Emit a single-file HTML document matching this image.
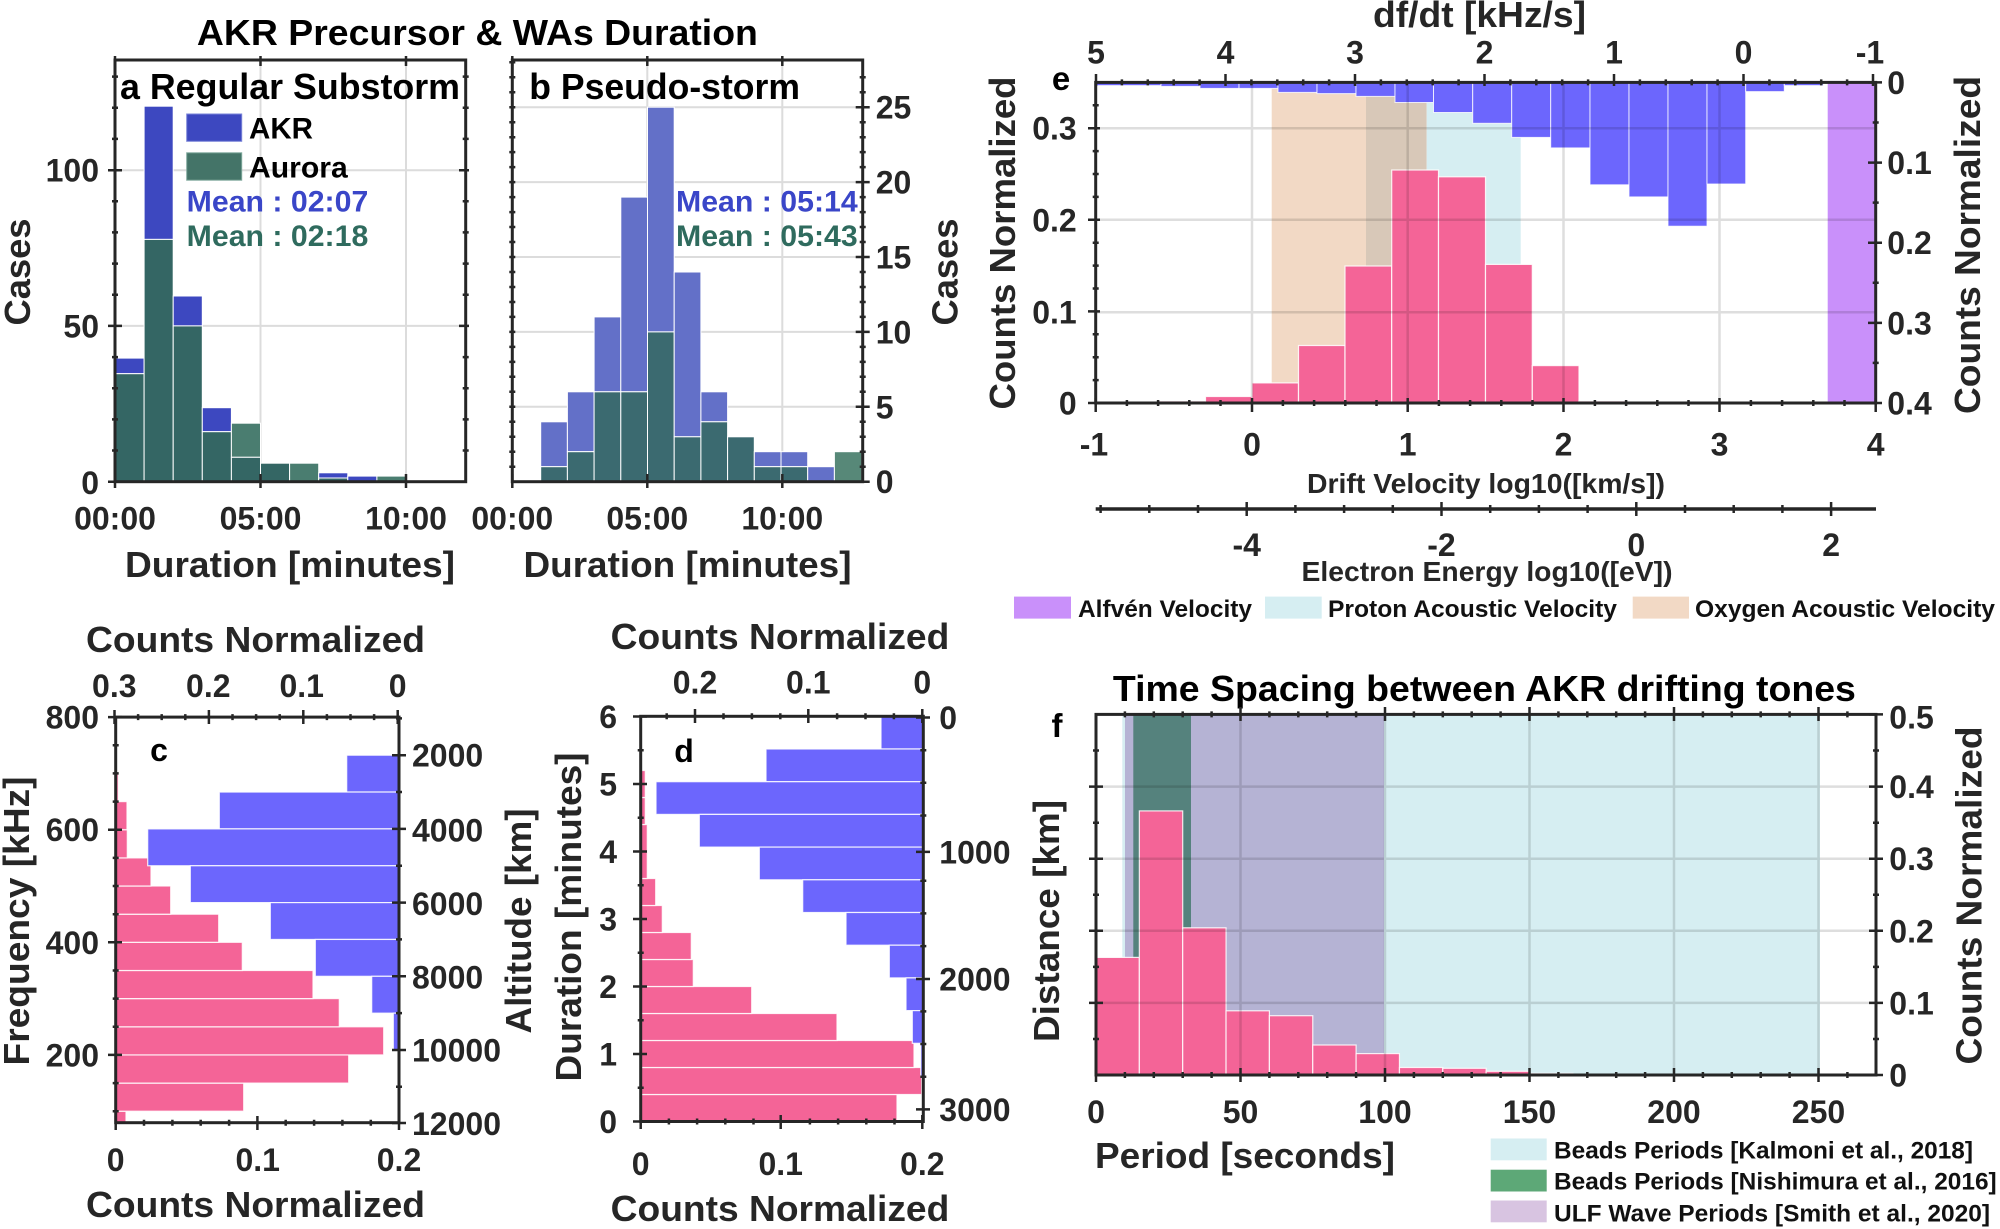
<!DOCTYPE html>
<html><head><meta charset="utf-8"><style>
html,body{margin:0;padding:0;background:#fff;}
svg{display:block;}
text{font-family:"Liberation Sans",Arial,Helvetica,sans-serif;font-weight:bold;fill:#262626;}
.t{font-size:32px;}
.l{font-size:36px;}
.g{font-size:24px;fill:#111;}
</style></head><body>
<svg width="2000" height="1229" viewBox="0 0 2000 1229" xmlns="http://www.w3.org/2000/svg">
<rect width="2000" height="1229" fill="#fff"/>

<!-- ================= Title ================= -->
<text x="477.4" y="45" text-anchor="middle" font-size="36" textLength="561" lengthAdjust="spacingAndGlyphs" style="fill:#000">AKR Precursor &amp; WAs Duration</text>

<!-- ================= Panel a ================= -->
<g stroke="#dcdcdc" stroke-width="2">
<path d="M115 325.9H465.7M115 170.2H465.7M260.5 60V481.7M406 60V481.7"/>
</g>
<g stroke="#fff" stroke-width="1">
<rect x="115" y="358.1" width="29.1" height="15.6" fill="#3d48c0"/>
<rect x="115" y="373.7" width="29.1" height="108" fill="#346664"/>
<rect x="144.1" y="106.2" width="29.1" height="133.2" fill="#3d48c0"/>
<rect x="144.1" y="239.4" width="29.1" height="242.3" fill="#346664"/>
<rect x="173.2" y="296" width="29.1" height="29.9" fill="#3d48c0"/>
<rect x="173.2" y="325.9" width="29.1" height="155.8" fill="#346664"/>
<rect x="202.3" y="407.7" width="29.1" height="24" fill="#3d48c0"/>
<rect x="202.3" y="431.7" width="29.1" height="50" fill="#346664"/>
<rect x="231.4" y="423.2" width="29.1" height="34.1" fill="#4a7d70"/>
<rect x="231.4" y="457.3" width="29.1" height="24.4" fill="#346664"/>
<rect x="260.5" y="463.2" width="29.1" height="18.5" fill="#346664"/>
<rect x="289.6" y="463.2" width="29.1" height="18.5" fill="#4a7d70"/>
<rect x="318.7" y="472.8" width="29.1" height="5.2" fill="#3d48c0"/>
<rect x="318.7" y="478" width="29.1" height="3.7" fill="#346664"/>
<rect x="347.8" y="476.1" width="29.1" height="5.6" fill="#3d48c0"/>
<rect x="376.9" y="476.1" width="29.1" height="5.6" fill="#4a7d70"/>
</g>
<rect x="115" y="60" width="350.7" height="421.7" fill="none" stroke="#262626" stroke-width="3"/>
<g stroke="#262626" stroke-width="2.5">
<path d="M112 450.5h6M112 419.4h6M112 388.2h6M112 357.1h6M112 294.7h6M112 263.6h6M112 232.4h6M112 201.3h6M112 138.9h6M112 107.8h6M112 76.6h6M108 481.7h14M108 325.9h14M108 170.2h14"/>
<path d="M462.7 450.5h6M462.7 419.4h6M462.7 388.2h6M462.7 357.1h6M462.7 294.7h6M462.7 263.6h6M462.7 232.4h6M462.7 201.3h6M462.7 138.9h6M462.7 107.8h6M462.7 76.6h6M459 325.9h10M459 170.2h10"/>
<path d="M115 478v10M260.5 474v14M406 474v14M115 56v10M260.5 56v10M406 56v10"/>
</g>
<text x="249" y="99.2" class="l" textLength="0" style="display:none"></text>
<text x="120" y="99.2" font-size="36" textLength="340" lengthAdjust="spacingAndGlyphs" style="fill:#000">a Regular Substorm</text>
<rect x="186.7" y="114" width="55" height="27.3" fill="#3d48c0" stroke="#7a84d8" stroke-width="1"/>
<rect x="186.7" y="152.8" width="55" height="27.4" fill="#447468" stroke="#7fa89c" stroke-width="1"/>
<text x="249" y="138.5" font-size="30" textLength="64" lengthAdjust="spacingAndGlyphs" style="fill:#000">AKR</text>
<text x="249" y="177.3" font-size="30" textLength="98.7" lengthAdjust="spacingAndGlyphs" style="fill:#000">Aurora</text>
<text x="186.7" y="211.7" font-size="30" textLength="181.6" lengthAdjust="spacingAndGlyphs" style="fill:#3a46c8">Mean : 02:07</text>
<text x="186.7" y="245.8" font-size="30" textLength="181.6" lengthAdjust="spacingAndGlyphs" style="fill:#2f6b5e">Mean : 02:18</text>
<text x="99" y="181.5" class="t" text-anchor="end">100</text>
<text x="99" y="337.4" class="t" text-anchor="end">50</text>
<text x="99" y="494" class="t" text-anchor="end">0</text>
<text x="115" y="529.5" class="t" text-anchor="middle">00:00</text>
<text x="260.5" y="529.5" class="t" text-anchor="middle">05:00</text>
<text x="406" y="529.5" class="t" text-anchor="middle">10:00</text>
<text x="290" y="577" class="l" text-anchor="middle" textLength="330" lengthAdjust="spacingAndGlyphs">Duration [minutes]</text>
<text transform="translate(30,272) rotate(-90)" class="l" text-anchor="middle" textLength="107" lengthAdjust="spacingAndGlyphs">Cases</text>

<!-- ================= Panel b ================= -->
<g stroke="#dcdcdc" stroke-width="2">
<path d="M512.3 406.8H862.7M512.3 331.9H862.7M512.3 257H862.7M512.3 182.1H862.7M512.3 107.2H862.7M647.3 60V481.7M782.3 60V481.7"/>
</g>
<g stroke="#fff" stroke-width="1">
<rect x="540.7" y="421.8" width="26.7" height="44.9" fill="#6370c8"/>
<rect x="540.7" y="466.7" width="26.7" height="15" fill="#3b6a70"/>
<rect x="567.4" y="391.8" width="26.7" height="59.9" fill="#6370c8"/>
<rect x="567.4" y="451.7" width="26.7" height="30" fill="#3b6a70"/>
<rect x="594.1" y="316.9" width="26.7" height="74.9" fill="#6370c8"/>
<rect x="594.1" y="391.8" width="26.7" height="89.9" fill="#3b6a70"/>
<rect x="620.8" y="197.1" width="26.7" height="194.7" fill="#6370c8"/>
<rect x="620.8" y="391.8" width="26.7" height="89.9" fill="#3b6a70"/>
<rect x="647.5" y="107.2" width="26.7" height="224.7" fill="#6370c8"/>
<rect x="647.5" y="331.9" width="26.7" height="149.8" fill="#3b6a70"/>
<rect x="674.2" y="272" width="26.7" height="164.8" fill="#6370c8"/>
<rect x="674.2" y="436.8" width="26.7" height="44.9" fill="#3b6a70"/>
<rect x="700.9" y="391.8" width="26.7" height="30" fill="#6370c8"/>
<rect x="700.9" y="421.8" width="26.7" height="59.9" fill="#3b6a70"/>
<rect x="727.6" y="436.8" width="26.7" height="44.9" fill="#3b6a70"/>
<rect x="754.3" y="451.7" width="26.7" height="15" fill="#6370c8"/>
<rect x="754.3" y="466.7" width="26.7" height="15" fill="#3b6a70"/>
<rect x="781" y="451.7" width="26.7" height="15" fill="#6370c8"/>
<rect x="781" y="466.7" width="26.7" height="15" fill="#3b6a70"/>
<rect x="807.7" y="466.7" width="26.7" height="15" fill="#6370c8"/>
<rect x="834.4" y="451.7" width="27.5" height="30" fill="#578878"/>
</g>
<rect x="512.3" y="60" width="350.4" height="421.7" fill="none" stroke="#262626" stroke-width="3"/>
<g stroke="#262626" stroke-width="2.5">
<path d="M509.3 466.7h6M509.3 451.7h6M509.3 436.8h6M509.3 421.8h6M509.3 406.8h6M509.3 391.8h6M509.3 376.8h6M509.3 361.9h6M509.3 346.9h6M509.3 331.9h6M509.3 316.9h6M509.3 302h6M509.3 287h6M509.3 272h6M509.3 257h6M509.3 242h6M509.3 227h6M509.3 212.1h6M509.3 197.1h6M509.3 182.1h6M509.3 167.1h6M509.3 152.1h6M509.3 137.2h6M509.3 122.2h6M509.3 107.2h6M509.3 92.2h6M509.3 77.2h6M509.3 62.3h6"/>
<path d="M859.7 466.7h6M859.7 451.7h6M859.7 436.8h6M859.7 421.8h6M855.7 406.8h14M859.7 391.8h6M859.7 376.8h6M859.7 361.9h6M859.7 346.9h6M855.7 331.9h14M859.7 316.9h6M859.7 302h6M859.7 287h6M859.7 272h6M855.7 257h14M859.7 242h6M859.7 227h6M859.7 212.1h6M859.7 197.1h6M855.7 182.1h14M859.7 167.1h6M859.7 152.1h6M859.7 137.2h6M859.7 122.2h6M855.7 107.2h14M859.7 92.2h6M859.7 77.2h6M855.7 481.7h14"/>
<path d="M512.3 474v14M647.3 474v14M782.3 474v14M512.3 56v10M647.3 56v10M782.3 56v10"/>
</g>
<text x="529.3" y="99" font-size="36" textLength="270.7" lengthAdjust="spacingAndGlyphs" style="fill:#000">b Pseudo-storm</text>
<text x="676" y="211.7" font-size="30" textLength="181.7" lengthAdjust="spacingAndGlyphs" style="fill:#3a46c8">Mean : 05:14</text>
<text x="676" y="245.8" font-size="30" textLength="181.7" lengthAdjust="spacingAndGlyphs" style="fill:#2f6b5e">Mean : 05:43</text>
<text x="875.7" y="493.2" class="t">0</text>
<text x="875.7" y="418.3" class="t">5</text>
<text x="875.7" y="343.4" class="t">10</text>
<text x="875.7" y="268.5" class="t">15</text>
<text x="875.7" y="193.6" class="t">20</text>
<text x="875.7" y="118.7" class="t">25</text>
<text x="512.3" y="529.5" class="t" text-anchor="middle">00:00</text>
<text x="647.3" y="529.5" class="t" text-anchor="middle">05:00</text>
<text x="782.3" y="529.5" class="t" text-anchor="middle">10:00</text>
<text x="687.5" y="577" class="l" text-anchor="middle" textLength="328" lengthAdjust="spacingAndGlyphs">Duration [minutes]</text>
<text transform="translate(957.5,272) rotate(-90)" class="l" text-anchor="middle" textLength="107" lengthAdjust="spacingAndGlyphs">Cases</text>

<!-- ================= Panel e ================= -->
<rect x="1271.7" y="82.4" width="94.3" height="320.6" fill="#f2d9c5"/>
<rect x="1366" y="82.4" width="60.7" height="320.6" fill="#d8c8b8"/>
<rect x="1426.7" y="82.4" width="94" height="320.6" fill="#d6eef2"/>
<rect x="1827.7" y="82.4" width="48" height="320.6" fill="#c990fa"/>
<g fill="#6c66fd" stroke="#fff" stroke-width="1" stroke-opacity="0.8">
<rect x="1095.7" y="82.4" width="26.3" height="3.2"/>
<rect x="1122" y="82.4" width="39" height="3.2"/>
<rect x="1161" y="82.4" width="39" height="4"/>
<rect x="1200" y="82.4" width="39" height="6"/>
<rect x="1239" y="82.4" width="39" height="6"/>
<rect x="1278" y="82.4" width="39" height="10"/>
<rect x="1317" y="82.4" width="39" height="11.2"/>
<rect x="1356" y="82.4" width="39" height="14"/>
<rect x="1395" y="82.4" width="38.5" height="20.1"/>
<rect x="1433.5" y="82.4" width="39.2" height="30.1"/>
<rect x="1472.7" y="82.4" width="39" height="40.9"/>
<rect x="1511.7" y="82.4" width="39" height="55"/>
<rect x="1550.7" y="82.4" width="39.3" height="65.5"/>
<rect x="1590" y="82.4" width="39" height="102.4"/>
<rect x="1629" y="82.4" width="39" height="114.5"/>
<rect x="1668" y="82.4" width="39" height="143.8"/>
<rect x="1707" y="82.4" width="38.7" height="101.6"/>
<rect x="1745.7" y="82.4" width="38.6" height="9.2"/>
<rect x="1784.3" y="82.4" width="39" height="3.2"/>
</g>
<g fill="#f46497" stroke="#fff" stroke-width="1.2" stroke-opacity="0.85">
<rect x="1159" y="401" width="46.5" height="2"/>
<rect x="1205.5" y="396.5" width="46.5" height="6.5"/>
<rect x="1252" y="382.9" width="46.5" height="20.1"/>
<rect x="1298.5" y="345.5" width="46.5" height="57.5"/>
<rect x="1345" y="266" width="46.7" height="137"/>
<rect x="1391.7" y="170" width="46.8" height="233"/>
<rect x="1438.5" y="176.8" width="47" height="226.2"/>
<rect x="1485.5" y="264.4" width="46.8" height="138.6"/>
<rect x="1532.3" y="365.6" width="46.7" height="37.4"/>
<rect x="1579" y="401" width="46.7" height="2"/>
</g>
<g stroke="#000" stroke-opacity="0.13" stroke-width="2.5">
<path d="M1095.7 312.2H1875.7M1095.7 219.8H1875.7M1095.7 128.2H1875.7M1252 82.4V403M1407.7 82.4V403M1563.5 82.4V403M1719.5 82.4V403"/>
</g>
<rect x="1095.7" y="82.4" width="780" height="320.6" fill="none" stroke="#262626" stroke-width="3"/>
<g stroke="#262626" stroke-width="2.5">
<path d="M1092.7 380.1h6M1092.7 357.2h6M1092.7 334.3h6M1092.7 288.5h6M1092.7 265.6h6M1092.7 242.7h6M1092.7 196.9h6M1092.7 174h6M1092.7 151.1h6M1092.7 105.3h6M1088 403h12M1088 311.4h12M1088 219.8h12M1088 128.2h12"/>
<path d="M1872.7 122.5h6M1872.7 202.6h6M1872.7 282.8h6M1872.7 362.9h6M1868 82.4h14M1868 162.6h14M1868 242.7h14M1868 322.9h14M1868 403h14"/>
<path d="M1126.9 400v6M1158.1 400v6M1189.3 400v6M1220.5 400v6M1282.9 400v6M1314.1 400v6M1345.3 400v6M1376.5 400v6M1438.9 400v6M1470.1 400v6M1501.3 400v6M1532.5 400v6M1594.9 400v6M1626.1 400v6M1657.3 400v6M1688.5 400v6M1750.9 400v6M1782.1 400v6M1813.3 400v6M1844.5 400v6M1095.7 398v14M1252 398v14M1407.7 398v14M1563.5 398v14M1719.5 398v14M1875.7 398v14"/>
<path d="M1121.9 79.4v6M1147.8 79.4v6M1173.7 79.4v6M1199.6 79.4v6M1251.4 79.4v6M1277.3 79.4v6M1303.2 79.4v6M1329.1 79.4v6M1380.9 79.4v6M1406.8 79.4v6M1432.7 79.4v6M1458.6 79.4v6M1510.4 79.4v6M1536.3 79.4v6M1562.2 79.4v6M1588.1 79.4v6M1639.9 79.4v6M1665.8 79.4v6M1691.7 79.4v6M1717.6 79.4v6M1769.4 79.4v6M1795.3 79.4v6M1821.2 79.4v6M1847.1 79.4v6M1096 74v12M1225.5 74v12M1355 74v12M1484.5 74v12M1614 74v12M1743.5 74v12M1873 74v12"/>
</g>
<text x="1061" y="90" font-size="33" text-anchor="middle" style="fill:#000">e</text>
<text x="1479.5" y="27" font-size="36" text-anchor="middle" textLength="213" lengthAdjust="spacingAndGlyphs">df/dt [kHz/s]</text>
<text x="1096" y="63.5" class="t" text-anchor="middle">5</text>
<text x="1225.5" y="63.5" class="t" text-anchor="middle">4</text>
<text x="1355" y="63.5" class="t" text-anchor="middle">3</text>
<text x="1484.5" y="63.5" class="t" text-anchor="middle">2</text>
<text x="1614" y="63.5" class="t" text-anchor="middle">1</text>
<text x="1743.5" y="63.5" class="t" text-anchor="middle">0</text>
<text x="1870" y="63.5" class="t" text-anchor="middle">-1</text>
<text x="1076.7" y="414.5" class="t" text-anchor="end">0</text>
<text x="1076.7" y="323.7" class="t" text-anchor="end">0.1</text>
<text x="1076.7" y="231.3" class="t" text-anchor="end">0.2</text>
<text x="1076.7" y="139.7" class="t" text-anchor="end">0.3</text>
<text x="1887.3" y="93.9" class="t">0</text>
<text x="1887.3" y="174" class="t">0.1</text>
<text x="1887.3" y="254.2" class="t">0.2</text>
<text x="1887.3" y="334.4" class="t">0.3</text>
<text x="1887.3" y="414.5" class="t">0.4</text>
<text x="1094" y="455.5" class="t" text-anchor="middle">-1</text>
<text x="1252" y="455.5" class="t" text-anchor="middle">0</text>
<text x="1407.7" y="455.5" class="t" text-anchor="middle">1</text>
<text x="1563.5" y="455.5" class="t" text-anchor="middle">2</text>
<text x="1719.5" y="455.5" class="t" text-anchor="middle">3</text>
<text x="1875.7" y="455.5" class="t" text-anchor="middle">4</text>
<text x="1486" y="493" font-size="28" text-anchor="middle" textLength="358" lengthAdjust="spacingAndGlyphs">Drift Velocity log10([km/s])</text>
<text transform="translate(1015,243) rotate(-90)" class="l" text-anchor="middle" textLength="333" lengthAdjust="spacingAndGlyphs">Counts Normalized</text>
<text transform="translate(1980,245) rotate(-90)" class="l" text-anchor="middle" textLength="338" lengthAdjust="spacingAndGlyphs">Counts Normalized</text>
<!-- electron energy axis -->
<path d="M1095.7 509H1876" stroke="#262626" stroke-width="3.5"/>
<g stroke="#262626" stroke-width="2.5">
<path d="M1100.6 505v8M1149.3 505v8M1198 505v8M1295.4 505v8M1344.1 505v8M1392.8 505v8M1490.2 505v8M1538.9 505v8M1587.6 505v8M1685 505v8M1733.7 505v8M1782.4 505v8M1246.7 502v14M1441.5 502v14M1636.3 502v14M1831.1 502v14"/>
</g>
<text x="1246.7" y="556" class="t" text-anchor="middle">-4</text>
<text x="1441.5" y="556" class="t" text-anchor="middle">-2</text>
<text x="1636.3" y="556" class="t" text-anchor="middle">0</text>
<text x="1831.1" y="556" class="t" text-anchor="middle">2</text>
<text x="1487" y="581" font-size="28" text-anchor="middle" textLength="371" lengthAdjust="spacingAndGlyphs">Electron Energy log10([eV])</text>
<!-- legend e -->
<rect x="1014" y="596.6" width="57" height="22" fill="#c990fa"/>
<text x="1078" y="617" class="g" textLength="174" lengthAdjust="spacingAndGlyphs">Alfvén Velocity</text>
<rect x="1265" y="596.6" width="56.7" height="22" fill="#d6eef2"/>
<text x="1328" y="617" class="g" textLength="289" lengthAdjust="spacingAndGlyphs">Proton Acoustic Velocity</text>
<rect x="1632.7" y="596.6" width="56.3" height="22" fill="#f2d9c5"/>
<text x="1695" y="617" class="g" textLength="300" lengthAdjust="spacingAndGlyphs">Oxygen Acoustic Velocity</text>

<!-- ================= Panel c ================= -->
<g fill="#f46497" stroke="#fff" stroke-width="1.2" stroke-opacity="0.85">
<rect x="115.7" y="1111.2" width="10.3" height="11.5"/>
<rect x="115.7" y="1083.1" width="128" height="28.1"/>
<rect x="115.7" y="1054.9" width="233" height="28.2"/>
<rect x="115.7" y="1026.8" width="268" height="28.1"/>
<rect x="115.7" y="998.6" width="223.6" height="28.2"/>
<rect x="115.7" y="970.5" width="197.3" height="28.1"/>
<rect x="115.7" y="942.3" width="126.6" height="28.2"/>
<rect x="115.7" y="914.2" width="103" height="28.1"/>
<rect x="115.7" y="886" width="55" height="28.2"/>
<rect x="115.7" y="857.9" width="35.3" height="28.1"/>
<rect x="115.7" y="829.7" width="11.6" height="28.2"/>
<rect x="115.7" y="801.6" width="11.3" height="28.1"/>
<rect x="115.7" y="773.4" width="2.6" height="28.2"/>
</g>
<g fill="#6c66fd" stroke="#fff" stroke-width="1.2" stroke-opacity="0.85">
<rect x="346.7" y="755.2" width="52.3" height="36.85"/>
<rect x="219.3" y="792.05" width="179.7" height="36.85"/>
<rect x="147.7" y="828.9" width="251.3" height="36.85"/>
<rect x="190.3" y="865.75" width="208.7" height="36.85"/>
<rect x="270.3" y="902.6" width="128.7" height="36.85"/>
<rect x="315.3" y="939.45" width="83.7" height="36.85"/>
<rect x="371.7" y="976.3" width="27.3" height="36.85"/>
<rect x="393.3" y="1013.15" width="5.7" height="36.85"/>
</g>
<rect x="115.7" y="717.1" width="283.3" height="405.6" fill="none" stroke="#262626" stroke-width="3"/>
<g stroke="#262626" stroke-width="2.5">
<path d="M112.7 745.3h6M112.7 773.4h6M112.7 801.6h6M112.7 857.9h6M112.7 886h6M112.7 914.2h6M112.7 970.5h6M112.7 998.6h6M112.7 1026.8h6M112.7 1083.1h6M112.7 1111.2h6M108 717.1h14M108 829.7h14M108 942.3h14M108 1054.9h14"/>
<path d="M396 718.4h6M396 792h6M396 865.7h6M396 939.4h6M396 1013.1h6M396 1086.8h6M392 755.2h14M392 828.9h14M392 902.6h14M392 976.3h14M392 1050h14M392 1123h14"/>
<path d="M144 1119.7v6M172.4 1119.7v6M200.7 1119.7v6M229.1 1119.7v6M285.7 1119.7v6M314.1 1119.7v6M342.4 1119.7v6M370.8 1119.7v6M115.7 1116v14M257.4 1116v14M399 1116v14"/>
<path d="M374.1 714.1v6M350.5 714.1v6M326.9 714.1v6M279.7 714.1v6M256.1 714.1v6M232.5 714.1v6M185.3 714.1v6M161.7 714.1v6M138.1 714.1v6M397.7 710v14M303.3 710v14M208.9 710v14M114.5 710v14"/>
</g>
<text x="159" y="761" font-size="32" text-anchor="middle" style="fill:#000">c</text>
<text x="255.5" y="652" class="l" text-anchor="middle" textLength="339" lengthAdjust="spacingAndGlyphs">Counts Normalized</text>
<text x="114.3" y="697" class="t" text-anchor="middle">0.3</text>
<text x="208.3" y="697" class="t" text-anchor="middle">0.2</text>
<text x="301.7" y="697" class="t" text-anchor="middle">0.1</text>
<text x="397.7" y="697" class="t" text-anchor="middle">0</text>
<text x="99" y="728.5" class="t" text-anchor="end">800</text>
<text x="99" y="841" class="t" text-anchor="end">600</text>
<text x="99" y="954" class="t" text-anchor="end">400</text>
<text x="99" y="1066.4" class="t" text-anchor="end">200</text>
<text x="412" y="766.7" class="t">2000</text>
<text x="412" y="841.3" class="t">4000</text>
<text x="412" y="915.2" class="t">6000</text>
<text x="412" y="988.5" class="t">8000</text>
<text x="412" y="1061.5" class="t">10000</text>
<text x="412" y="1135" class="t">12000</text>
<text x="115.7" y="1171" class="t" text-anchor="middle">0</text>
<text x="257.7" y="1171" class="t" text-anchor="middle">0.1</text>
<text x="399" y="1171" class="t" text-anchor="middle">0.2</text>
<text x="255.5" y="1217" class="l" text-anchor="middle" textLength="339" lengthAdjust="spacingAndGlyphs">Counts Normalized</text>
<text transform="translate(29,921) rotate(-90)" class="l" text-anchor="middle" textLength="289" lengthAdjust="spacingAndGlyphs">Frequency [kHz]</text>
<text transform="translate(531,921) rotate(-90)" class="l" text-anchor="middle" textLength="225" lengthAdjust="spacingAndGlyphs">Altitude [km]</text>

<!-- ================= Panel d ================= -->
<g fill="#f46497" stroke="#fff" stroke-width="1.2" stroke-opacity="0.85">
<rect x="640.7" y="1094.5" width="256.3" height="27"/>
<rect x="640.7" y="1067.5" width="281" height="27"/>
<rect x="640.7" y="1040.5" width="273.3" height="27"/>
<rect x="640.7" y="1013.5" width="196.3" height="27"/>
<rect x="640.7" y="986.5" width="111" height="27"/>
<rect x="640.7" y="959.5" width="52.6" height="27"/>
<rect x="640.7" y="932.5" width="50.6" height="27"/>
<rect x="640.7" y="905.5" width="21.6" height="27"/>
<rect x="640.7" y="878.5" width="15" height="27"/>
<rect x="640.7" y="851.5" width="6.6" height="27"/>
<rect x="640.7" y="824.5" width="6.6" height="27"/>
<rect x="640.7" y="797.5" width="4.6" height="27"/>
<rect x="640.7" y="770.5" width="4.6" height="27"/>
</g>
<g fill="#6c66fd" stroke="#fff" stroke-width="1.2" stroke-opacity="0.85">
<rect x="881" y="716.3" width="42.3" height="32.7"/>
<rect x="766" y="749" width="157.3" height="32.7"/>
<rect x="656" y="781.7" width="267.3" height="32.7"/>
<rect x="699.3" y="814.4" width="224" height="32.7"/>
<rect x="759.3" y="847.1" width="164" height="32.7"/>
<rect x="802.7" y="879.8" width="120.6" height="32.7"/>
<rect x="846" y="912.5" width="77.3" height="32.7"/>
<rect x="889.3" y="945.2" width="34" height="32.7"/>
<rect x="906" y="977.9" width="17.3" height="32.7"/>
<rect x="912.3" y="1010.6" width="11" height="32.7"/>
<rect x="920.7" y="1043.3" width="2.6" height="32.7"/>
</g>
<rect x="640.7" y="716.3" width="282.6" height="405.2" fill="none" stroke="#262626" stroke-width="3"/>
<g stroke="#262626" stroke-width="2.5">
<path d="M637.7 1087.8h6M637.7 1020.3h6M637.7 952.8h6M637.7 885.3h6M637.7 817.8h6M637.7 750.3h6M633 1121.5h14M633 1054h14M633 986.5h14M633 919h14M633 851.5h14M633 784h14M633 716.5h14"/>
<path d="M920.3 750.2h6M920.3 782.8h6M920.3 815.5h6M920.3 880.8h6M920.3 913.4h6M920.3 946.1h6M920.3 1011.4h6M920.3 1044h6M920.3 1076.7h6M916 717.5h14M916 851.9h14M916 979h14M916 1109.4h14"/>
<path d="M668.9 1118.5v6M697.1 1118.5v6M725.3 1118.5v6M753.5 1118.5v6M809.9 1118.5v6M838.1 1118.5v6M866.3 1118.5v6M894.5 1118.5v6M640.7 1115v14M780.7 1115v14M922.3 1115v14"/>
<path d="M893.9 713.3v6M865.5 713.3v6M837.1 713.3v6M780.3 713.3v6M751.9 713.3v6M723.5 713.3v6M666.7 713.3v6M922.3 709v14M808.3 709v14M695 709v14"/>
</g>
<text x="684" y="762" font-size="32" text-anchor="middle" style="fill:#000">d</text>
<text x="780" y="649" class="l" text-anchor="middle" textLength="338.6" lengthAdjust="spacingAndGlyphs">Counts Normalized</text>
<text x="695" y="693.7" class="t" text-anchor="middle">0.2</text>
<text x="808.3" y="693.7" class="t" text-anchor="middle">0.1</text>
<text x="922.3" y="693.7" class="t" text-anchor="middle">0</text>
<text x="617" y="1133" class="t" text-anchor="end">0</text>
<text x="617" y="1065.5" class="t" text-anchor="end">1</text>
<text x="617" y="998" class="t" text-anchor="end">2</text>
<text x="617" y="930.5" class="t" text-anchor="end">3</text>
<text x="617" y="863" class="t" text-anchor="end">4</text>
<text x="617" y="795.5" class="t" text-anchor="end">5</text>
<text x="617" y="728" class="t" text-anchor="end">6</text>
<text x="939.3" y="729" class="t">0</text>
<text x="939.3" y="863.4" class="t">1000</text>
<text x="939.3" y="990.5" class="t">2000</text>
<text x="939.3" y="1120.9" class="t">3000</text>
<text x="640.7" y="1175" class="t" text-anchor="middle">0</text>
<text x="780.7" y="1175" class="t" text-anchor="middle">0.1</text>
<text x="922.3" y="1175" class="t" text-anchor="middle">0.2</text>
<text x="780" y="1221" class="l" text-anchor="middle" textLength="338.6" lengthAdjust="spacingAndGlyphs">Counts Normalized</text>
<text transform="translate(581,917) rotate(-90)" class="l" text-anchor="middle" textLength="329" lengthAdjust="spacingAndGlyphs">Duration [minutes]</text>

<!-- ================= Panel f ================= -->
<text x="1484.4" y="701" font-size="36" text-anchor="middle" textLength="743" lengthAdjust="spacingAndGlyphs" style="fill:#000">Time Spacing between AKR drifting tones</text>
<rect x="1122.3" y="714.4" width="697.7" height="360.6" fill="#d6eef2"/>
<rect x="1125" y="714.4" width="259" height="360.6" fill="#b5b3d4"/>
<rect x="1133.3" y="714.4" width="57.7" height="360.6" fill="#55827d"/>
<g fill="#f46497" stroke="#fff" stroke-width="1.2" stroke-opacity="0.85">
<rect x="1096" y="957.4" width="43.35" height="117.6"/>
<rect x="1139.35" y="810.9" width="43.35" height="264.1"/>
<rect x="1182.7" y="927.8" width="43.35" height="147.2"/>
<rect x="1226.05" y="1010.8" width="43.35" height="64.2"/>
<rect x="1269.4" y="1015.7" width="43.35" height="59.3"/>
<rect x="1312.75" y="1045" width="43.35" height="30"/>
<rect x="1356.1" y="1053.6" width="43.35" height="21.4"/>
<rect x="1399.45" y="1067.5" width="43.35" height="7.5"/>
<rect x="1442.8" y="1068.3" width="43.35" height="6.7"/>
<rect x="1486.15" y="1071.3" width="43.35" height="3.7"/>
<rect x="1529.5" y="1073.3" width="43.35" height="1.7"/>
</g>
<g stroke="#000" stroke-opacity="0.13" stroke-width="2.5">
<path d="M1096 1002.9H1876M1096 930.8H1876M1096 858.7H1876M1096 786.6H1876M1240.5 714.4V1075M1385 714.4V1075M1529.5 714.4V1075M1674 714.4V1075M1818.5 714.4V1075"/>
</g>
<rect x="1096" y="714.4" width="780" height="360.6" fill="none" stroke="#262626" stroke-width="3"/>
<g stroke="#262626" stroke-width="2.5">
<path d="M1124.9 1072v6M1153.8 1072v6M1182.7 1072v6M1211.6 1072v6M1269.4 1072v6M1298.3 1072v6M1327.2 1072v6M1356.1 1072v6M1413.9 1072v6M1442.8 1072v6M1471.7 1072v6M1500.6 1072v6M1558.4 1072v6M1587.3 1072v6M1616.2 1072v6M1645.1 1072v6M1702.9 1072v6M1731.8 1072v6M1760.7 1072v6M1789.6 1072v6M1847.4 1072v6M1096 1068v14M1240.5 1068v14M1385 1068v14M1529.5 1068v14M1674 1068v14M1818.5 1068v14"/>
<path d="M1124.9 711.4v6M1153.8 711.4v6M1182.7 711.4v6M1211.6 711.4v6M1269.4 711.4v6M1298.3 711.4v6M1327.2 711.4v6M1356.1 711.4v6M1413.9 711.4v6M1442.8 711.4v6M1471.7 711.4v6M1500.6 711.4v6M1558.4 711.4v6M1587.3 711.4v6M1616.2 711.4v6M1645.1 711.4v6M1702.9 711.4v6M1731.8 711.4v6M1760.7 711.4v6M1789.6 711.4v6M1847.4 711.4v6M1240.5 707v14M1385 707v14M1529.5 707v14M1674 707v14M1818.5 707v14"/>
<path d="M1873 1039h6M1873 966.9h6M1873 894.8h6M1873 822.7h6M1873 750.5h6M1869 1002.9h14M1869 930.8h14M1869 858.7h14M1869 786.6h14M1869 714.4h14M1869 1075h14"/>
<path d="M1093 1039h6M1093 966.9h6M1093 894.8h6M1093 822.7h6M1093 750.5h6M1089 1002.9h14M1089 930.8h14M1089 858.7h14M1089 786.6h14"/>
</g>
<text x="1057" y="737" font-size="33" text-anchor="middle" style="fill:#000">f</text>
<text x="1889.3" y="728.5" class="t">0.5</text>
<text x="1889.3" y="798" class="t">0.4</text>
<text x="1889.3" y="870.2" class="t">0.3</text>
<text x="1889.3" y="942.3" class="t">0.2</text>
<text x="1889.3" y="1014.4" class="t">0.1</text>
<text x="1889.3" y="1086.5" class="t">0</text>
<text x="1096" y="1123" class="t" text-anchor="middle">0</text>
<text x="1240.5" y="1123" class="t" text-anchor="middle">50</text>
<text x="1385" y="1123" class="t" text-anchor="middle">100</text>
<text x="1529.5" y="1123" class="t" text-anchor="middle">150</text>
<text x="1674" y="1123" class="t" text-anchor="middle">200</text>
<text x="1818.5" y="1123" class="t" text-anchor="middle">250</text>
<text x="1245" y="1168" class="l" text-anchor="middle" textLength="300" lengthAdjust="spacingAndGlyphs">Period [seconds]</text>
<text transform="translate(1059,921) rotate(-90)" class="l" text-anchor="middle" textLength="242" lengthAdjust="spacingAndGlyphs">Distance [km]</text>
<text transform="translate(1981.7,895.5) rotate(-90)" class="l" text-anchor="middle" textLength="338" lengthAdjust="spacingAndGlyphs">Counts Normalized</text>
<!-- legend f -->
<rect x="1490.7" y="1138.5" width="56" height="21.8" fill="#d6eef2"/>
<text x="1554" y="1158.6" class="g" textLength="419" lengthAdjust="spacingAndGlyphs">Beads Periods [Kalmoni et al., 2018]</text>
<rect x="1490.7" y="1169.7" width="56" height="21.8" fill="#5da877"/>
<text x="1554" y="1189.5" class="g" textLength="442.7" lengthAdjust="spacingAndGlyphs">Beads Periods [Nishimura et al., 2016]</text>
<rect x="1490.7" y="1200.5" width="56" height="21.8" fill="#d8c4e1"/>
<text x="1554" y="1221.4" class="g" textLength="436" lengthAdjust="spacingAndGlyphs">ULF Wave Periods [Smith et al., 2020]</text>
</svg>
</body></html>
